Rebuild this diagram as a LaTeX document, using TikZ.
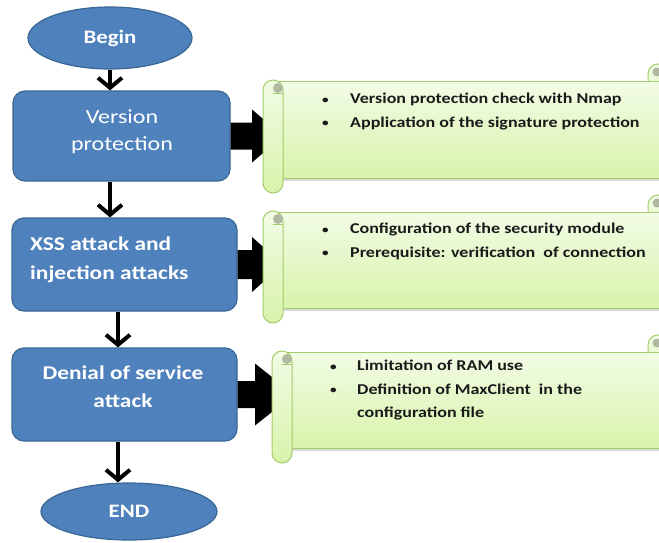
\documentclass[tikz,border=0pt]{standalone}
\usepackage{fontspec}
\setmainfont{Carlito}[FakeStretch=1.2]
\usetikzlibrary{arrows.meta,calc,shapes.geometric}
\definecolor{boxblue}{HTML}{4F81BD}
\definecolor{boxedge}{HTML}{3A6693}
\definecolor{scrtop}{HTML}{F2FCE6}
\definecolor{scrbot}{HTML}{D8F3AA}
\definecolor{scredge}{HTML}{A3CD6B}
\definecolor{curlgray}{HTML}{B0B8A2}
\definecolor{scrtext}{HTML}{1A1A1A}
\newcommand{\drawscroll}[3]{%
  \fill[black!15] (#1+20,#3) rectangle (700,#3+3);
  \shade[top color=scrtop,bottom color=scrbot,draw=scredge,line width=1pt] (#1+10,#2) rectangle (700,#3);
  \shade[top color=scrtop,bottom color=scrtop!70!scrbot,draw=scredge,line width=1pt,rounded corners=10pt] (648,#2) -- (648,#2-17) -- (668,#2-17) -- (668,#2);
  \fill[curlgray] (657,#2-9) circle (4.5);
  \shade[top color=scrtop,bottom color=scrbot,draw=scredge,line width=1pt,rounded corners=10pt] (#1,#2-1) rectangle (#1+20,#3+15);
  \fill[curlgray] (#1+15,#2+7) circle (5);
  \draw[scredge,line width=0.8pt] (#1+10,#2+12) -- (#1+20,#2+12);
}
\newcommand{\bul}[1]{\makebox[#1][l]{\raisebox{0.5pt}{\fontsize{11}{11}\selectfont\textbullet}}}
\begin{document}
\begin{tikzpicture}[x=1pt,y=-1pt,
  flowbox/.style={draw=boxedge,line width=1.2pt,fill=boxblue,rounded corners=12pt,inner sep=0pt},
  terminal/.style={ellipse,draw=boxedge,line width=1.2pt,fill=boxblue,inner sep=0pt,text=white,font=\fontsize{19}{22}\selectfont\bfseries},
  boxtext/.style={text=white,inner sep=0pt},
  flowarrow/.style={line width=4pt,-{Straight Barb[length=10pt,width=24pt]}},
  blockarrow/.style={fill=black},
  scrolltext/.style={text=scrtext,inner sep=0pt,anchor=north west,align=left,font=\fontsize{15}{23.5}\selectfont\bfseries}]
\useasboundingbox (0,0) rectangle (659,542);
\clip (0,0) rectangle (659,542);

% terminals and boxes
\node[terminal,minimum width=164pt,minimum height=62pt] (b) at (110,38) {Begin};
\node[flowbox,minimum width=217pt,minimum height=90pt] (v) at (121.5,136) {};
\node[flowbox,minimum width=225pt,minimum height=93pt] (x) at (124.5,264.5) {};
\node[flowbox,minimum width=225pt,minimum height=93pt] (d) at (124.5,394.5) {};
\node[terminal,minimum width=176pt,minimum height=57pt] (e) at (129,511.5) {END};

\node[boxtext,align=center,font=\fontsize{20}{27}\selectfont] (vt) at (122,131.5) {Version\\protection};
\node[boxtext,align=left,anchor=west,font=\fontsize{19.5}{29}\selectfont\bfseries] (xt) at (30,259.5) {XSS attack and\\injection attacks};
\node[boxtext,align=center,font=\fontsize{19.5}{28}\selectfont\bfseries] (dt) at (123,387) {Denial of service\\attack};

% flow arrows
\coordinate (c1) at (118,0);
\draw[flowarrow] (b.south) -- (b.south |- v.north);
\draw[flowarrow] (v.south -| b.south) -- (b.south |- x.north);
\draw[flowarrow] (x.south -| c1) -- (c1 |- d.north);
\draw[flowarrow] (d.south -| c1) -- (c1 |- e.north);

% block arrows
\coordinate (h1) at (252,0); \coordinate (t1) at (283,0);
\coordinate (h2) at (252,0); \coordinate (t2) at (283,0);
\coordinate (h3) at (255,0); \coordinate (t3) at (294,0);
\fill[blockarrow] ($(v.east)+(0,-13.5)$) -- ($(v.east -| h1)+(0,-13.5)$) -- ($(v.east -| h1)+(0,-26.5)$) -- (v.east -| t1) -- ($(v.east -| h1)+(0,26.5)$) -- ($(v.east -| h1)+(0,13.5)$) -- ($(v.east)+(0,13.5)$) -- cycle;
\fill[blockarrow] ($(x.east)+(0,-14.5)$) -- ($(x.east -| h2)+(0,-14.5)$) -- ($(x.east -| h2)+(0,-27.5)$) -- (x.east -| t2) -- ($(x.east -| h2)+(0,27.5)$) -- ($(x.east -| h2)+(0,14.5)$) -- ($(x.east)+(0,14.5)$) -- cycle;
\fill[blockarrow] ($(d.east)+(0,-13.5)$) -- ($(d.east -| h3)+(0,-13.5)$) -- ($(d.east -| h3)+(0,-31)$) -- (d.east -| t3) -- ($(d.east -| h3)+(0,31)$) -- ($(d.east -| h3)+(0,13.5)$) -- ($(d.east)+(0,13.5)$) -- cycle;

% scrolls
\drawscroll{263}{81}{178}
\drawscroll{263}{212}{308}
\drawscroll{272}{352}{448}

\node[scrolltext] (s1) at (322,93) {\bul{28pt}Version protection check with Nmap\\\bul{28pt}Application of the signature protection};
\node[scrolltext] (s2) at (322,223) {\bul{28pt}Configuration of the security module\\\bul{28pt}Prerequisite: verification\ \ of connection};
\node[scrolltext] (s3) at (330,360) {\bul{27pt}Limitation of RAM use\\\bul{27pt}Definition of MaxClient\ \ in the\\\hspace*{27pt}configuration file};
\end{tikzpicture}
\end{document}
